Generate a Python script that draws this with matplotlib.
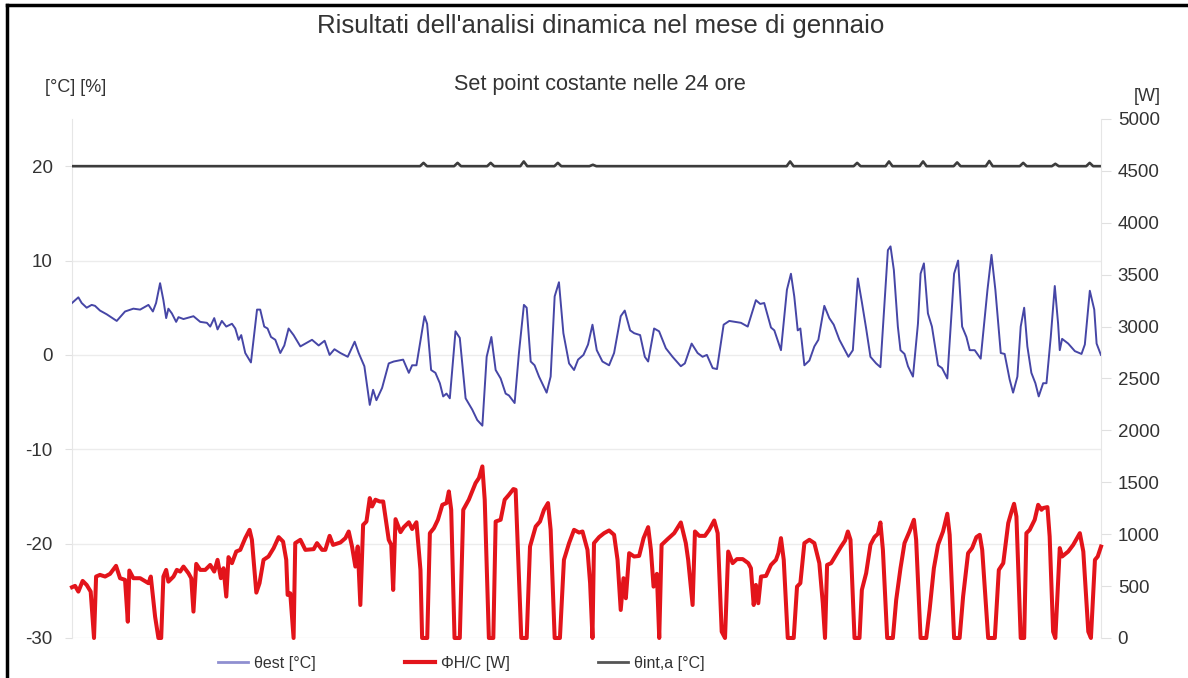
"""Risultati dell'analisi dinamica - gennaio (set point costante)."""

import matplotlib
matplotlib.use("Agg")
import matplotlib.pyplot as plt
from matplotlib.lines import Line2D

# theta_est [°C] (hour of month, value)
hours_est = [
    0, 4.6, 7.0, 10.6, 14.2, 16.6, 20.2, 25.1, 32.3, 38.3, 44.3, 49.2, 55.2, 58.4, 60.7,
    63.6, 66.0, 68.0, 69.6, 72.1, 75.2, 76.9, 80.5, 87.7, 92.6, 97.4, 99.8, 102.7, 105.1,
    108.2, 111.4, 115.5, 117.9, 120.3, 122.2, 125.1, 129.2, 133.6, 135.9, 138.8, 141.2,
    143.7, 146.8, 150.4, 153.3, 156.4, 160.0, 164.9, 169.7, 173.3, 178.1, 182.4, 186.0,
    189.5, 193.8, 199.1, 204.1, 207.0, 211.1, 215.0, 217.4, 219.8, 223.9, 228.7, 232.3,
    239.1, 243.2, 245.6, 248.7, 254.5, 256.4, 259.3, 262.4, 265.6, 268.0, 270.4, 272.8,
    276.9, 280.0, 284.2, 289.0, 292.6, 296.3, 299.4, 302.8, 305.9, 309.5, 313.1, 315.5,
    319.6, 322.7, 326.3, 328.3, 331.2, 334.0, 337.2, 342.7, 345.6, 348.5, 351.6, 354.8,
    358.9, 362.5, 365.4, 369.3, 372.6, 375.8, 378.9, 383.0, 387.8, 391.4, 396.2, 399.1,
    403.0, 405.9, 410.2, 413.6, 416.0, 420.3, 423.9, 428.8, 433.6, 439.6, 442.5, 447.4,
    451.7, 455.3, 458.4, 462.6, 465.7, 470.5, 474.6, 483.0, 487.9, 490.2, 493.8, 496.9,
    499.8, 504.7, 507.1, 511.9, 516.2, 519.1, 521.5, 524.0, 525.9, 528.8, 532.4, 536.0,
    538.9, 543.2, 546.8, 550.0, 554.1, 560.6, 563.8, 567.4, 570.3, 573.4, 576.5, 580.6,
    583.7, 589.1, 591.0, 593.4, 596.3, 598.2, 601.1, 603.6, 607.2, 610.8, 612.7, 615.1,
    618.0, 620.9, 625.3, 628.2, 632.0, 636.9, 639.8, 642.7, 645.8, 648.2, 651.8, 656.1,
    661.0, 663.9, 666.7, 670.6, 673.4, 677.0, 679.5, 682.6, 685.0, 687.5, 689.8, 692.7,
    695.6, 698.0, 701.2, 703.6, 706.7, 709.6, 712.0, 713.2, 714.9, 719.3, 724.1, 728.9,
    731.3, 734.9, 738.1, 739.8, 742.9,
]
temp_est = [
    5.5, 6.1, 5.5, 5.0, 5.3, 5.2, 4.7, 4.3, 3.6, 4.6, 4.9, 4.8, 5.3, 4.6, 5.5,
    7.6, 5.8, 3.9, 4.9, 4.4, 3.5, 4.0, 3.8, 4.1, 3.5, 3.4, 3.0, 3.9, 2.7,
    3.6, 3.0, 3.3, 2.8, 1.6, 2.1, 0.2, -0.8, 4.8, 4.8, 3.0, 2.8,
    1.9, 1.6, 0.2, 1.0, 2.8, 2.1, 0.9, 1.3, 1.6, 1.0, 1.5, 0.0,
    0.6, 0.2, -0.2, 1.4, 0.2, -1.2, -5.3, -3.7, -4.8, -3.5, -0.9, -0.7,
    -0.5, -1.9, -1.1, -1.1, 4.1, 3.3, -1.6, -1.9, -3.0, -4.4, -4.1, -4.6,
    2.5, 1.8, -4.6, -5.8, -6.9, -7.5, -0.2, 1.9, -1.6, -2.5, -4.1, -4.3,
    -5.1, 0.2, 5.3, 5.0, -0.7, -1.1, -2.3, -4.0, -2.3, 6.2, 7.7, 2.3,
    -0.9, -1.6, -0.5, 0.0, 1.1, 3.2, 0.5, -0.7, -1.1, 0.2, 4.1, 4.7,
    2.6, 2.3, 2.1, -0.2, -0.7, 2.8, 2.5, 0.7, -0.2, -1.2, -0.9, 1.2,
    0.2, -0.2, 0.0, -1.4, -1.5, 3.2, 3.6, 3.4, 3.0, 4.1, 5.8, 5.4,
    5.5, 2.9, 2.6, 0.5, 6.9, 8.6, 6.2, 2.6, 2.8, -1.1, -0.6, 0.9,
    1.6, 5.2, 3.9, 3.2, 1.6, -0.2, 0.5, 8.1, 5.6, 2.8, -0.2, -0.9,
    -1.3, 11.1, 11.5, 9.0, 3.0, 0.5, 0.1, -1.2, -2.3, 3.3, 8.6, 9.7,
    4.4, 3.0, -1.1, -1.4, -2.5, 8.6, 10.0, 3.0, 1.9, 0.5, 0.5, -0.4,
    6.9, 10.6, 6.9, 0.2, 0.1, -2.6, -4.0, -2.3, 3.0, 5.0, 0.9, -1.9,
    -3.0, -4.4, -3.0, -3.0, 1.9, 7.3, 3.3, 0.5, 1.7, 1.2, 0.4, 0.1,
    1.1, 6.8, 4.8, 1.2, 0.0,
]

# Phi_H/C [W]
hours_q = [
    0, 2.2, 4.6, 7.7, 10.6, 13.5, 15.9, 17.4, 20.2, 23.9, 27.5, 31.8, 34.7, 38.3, 40.3,
    41.4, 44.3, 49.2, 55.2, 56.9, 60.0, 62.4, 64.4, 66.0, 68.0, 69.6, 73.3, 75.7, 78.1,
    80.5, 84.1, 86.1, 87.7, 89.7, 92.6, 96.2, 99.8, 102.7, 105.1, 107.5, 109.4, 111.4,
    113.0, 115.5, 118.6, 121.5, 125.1, 128.2, 129.9, 133.1, 135.4, 138.3, 141.9, 145.6,
    149.2, 152.4, 154.7, 155.7, 157.6, 160.0, 161.2, 164.9, 168.5, 174.5, 176.9, 180.6,
    182.9, 186.0, 188.5, 193.8, 197.4, 199.8, 202.2, 204.6, 206.3, 208.2, 210.2, 212.6,
    215.0, 216.7, 219.1, 222.2, 224.7, 228.7, 230.5, 231.9, 233.6, 237.2, 239.6, 243.2,
    245.6, 248.7, 251.6, 252.8, 256.5, 258.4, 261.3, 264.2, 267.4, 270.4, 272.1, 273.8,
    276.2, 280.0, 282.5, 286.5, 291.4, 293.8, 296.3, 298.0, 301.0, 304.2, 305.9, 309.5,
    312.4, 315.5, 318.7, 320.3, 324.4, 328.3, 330.7, 334.8, 337.9, 340.8, 343.7, 345.6,
    348.5, 352.3, 355.2, 358.9, 362.5, 366.1, 368.6, 372.2, 374.1, 375.8, 376.9, 380.6,
    384.2, 387.8, 391.4, 393.9, 396.2, 398.2, 399.9, 402.3, 405.9, 409.5, 412.7, 416.0,
    418.0, 419.9, 422.3, 424.0, 425.7, 430.0, 434.8, 439.6, 443.2, 444.9, 448.1, 449.8,
    452.9, 457.0, 460.1, 463.7, 466.2, 469.1, 471.5, 473.8, 477.0, 480.1, 484.3, 488.3,
    490.2, 492.2, 493.8, 495.5, 497.5, 501.1, 504.7, 508.3, 510.0, 511.9, 513.9, 516.8,
    521.1, 523.5, 525.9, 528.8, 532.4, 536.0, 539.6, 542.1, 543.7, 545.2, 548.1, 551.7,
    555.3, 558.2, 560.2, 562.1, 565.0, 568.6, 570.3, 573.4, 576.5, 579.4, 581.9, 583.7,
    585.5, 588.6, 592.7, 595.1, 598.2, 601.1, 604.7, 607.9, 609.5, 612.7, 616.8, 619.2,
    622.3, 625.3, 628.9, 632.0, 633.7, 636.9, 640.9, 643.4, 647.0, 649.9, 653.0, 655.4,
    657.2, 661.5, 666.3, 669.2, 672.4, 676.0, 678.4, 680.2, 681.9, 685.0, 687.5, 689.1,
    691.5, 695.1, 697.6, 700.0, 701.2, 704.3, 705.9, 708.4, 710.0, 713.2, 714.9, 719.3,
    722.9, 727.7, 730.2, 733.8, 735.7, 738.6, 740.6, 743.0,
]
power_q = [
    489, 502, 447, 550, 511, 447, 0, 592, 608, 592, 618, 695, 576, 560, 157,
    650, 576, 576, 528, 592, 206, 0, 0, 592, 656, 543, 592, 656, 640,
    688, 624, 576, 254, 714, 656, 656, 704, 640, 753, 576, 672, 399,
    779, 721, 833, 849, 962, 1042, 946, 437, 528, 753, 785, 866,
    972, 929, 753, 415, 431, 0, 914, 946, 849, 856, 914, 849,
    849, 984, 897, 920, 962, 1026, 881, 688, 881, 318, 1090, 1122,
    1348, 1267, 1332, 1315, 1315, 946, 897, 463, 1145, 1020, 1068, 1115,
    1050, 1115, 656, 0, 0, 1010, 1058, 1139, 1283, 1300, 1412, 1235,
    0, 0, 1235, 1332, 1493, 1541, 1653, 1332, 0, 0, 1122, 1139,
    1332, 1380, 1435, 1428, 0, 0, 881, 1074, 1122, 1235, 1300, 1042,
    0, 0, 753, 914, 1042, 1016, 1026, 849, 528, 0, 914, 972,
    1010, 1036, 994, 753, 270, 576, 383, 817, 785, 791, 962, 1068,
    849, 495, 618, 0, 897, 952, 1010, 1113, 914, 753, 318, 1026,
    984, 984, 1042, 1132, 1010, 61, 0, 833, 721, 760, 760, 721,
    672, 318, 511, 335, 592, 598, 704, 753, 817, 962, 753, 0,
    0, 495, 528, 914, 946, 914, 721, 335, 0, 704, 721, 801,
    881, 939, 1026, 946, 0, 0, 463, 624, 897, 972, 1004, 1113,
    849, 0, 0, 367, 672, 914, 1026, 1139, 946, 0, 0, 270,
    672, 897, 1026, 1197, 994, 0, 0, 399, 817, 866, 972, 994,
    849, 0, 0, 656, 721, 1107, 1219, 1293, 1171, 0, 0, 1010,
    1042, 1139, 1283, 1235, 1252, 1261, 978, 61, 0, 866, 785, 833,
    897, 1010, 833, 61, 0, 753, 785, 881,
]

# theta_int,a [°C]: constant set point with small overshoots
hours_int = [
    0, 251.3, 253.8, 256.3, 275.9, 278.4, 280.9, 299.8, 302.3, 304.8, 323.7, 326.2, 328.7,
    348.3, 350.8, 353.3, 373.6, 376.1, 378.6, 516.0, 518.5, 521.0, 564.4, 566.9, 569.4,
    587.4, 589.9, 592.4, 612.0, 614.5, 617.0, 636.6, 639.1, 641.6, 659.8, 662.3, 664.8,
    684.3, 686.8, 689.3, 707.5, 710.0, 712.5, 732.3, 734.8, 737.3, 743,
]
temp_int = [
    20.0, 20.0, 20.35, 20.0, 20.0, 20.35, 20.0, 20.0, 20.35, 20.0, 20.0, 20.5, 20.0,
    20.0, 20.35, 20.0, 20.0, 20.15, 20.0, 20.0, 20.5, 20.0, 20.0, 20.35, 20.0,
    20.0, 20.5, 20.0, 20.0, 20.5, 20.0, 20.0, 20.4, 20.0, 20.0, 20.55, 20.0,
    20.0, 20.35, 20.0, 20.0, 20.25, 20.0, 20.0, 20.35, 20.0, 20.0,
]

left_ticks = [-30, -20, -10, 0, 10, 20]
right_ticks = [0, 500, 1000, 1500, 2000, 2500, 3000, 3500, 4000, 4500, 5000]
legend_labels = ["θest [°C]", "ΦH/C [W]", "θint,a [°C]"]

FONT = "Liberation Sans"
TXT = "#333333"
C_EST = "#4646a6"
C_Q = "#e3141b"
C_INT = "#3c3c3c"


def main() -> None:
    plt.rcParams.update({"font.family": [FONT, "DejaVu Sans"], "axes.unicode_minus": False})
    fig = plt.figure(figsize=(11.88, 6.78), dpi=100)

    ax = fig.add_axes([0.0606, 0.059, 0.8662, 0.7655])
    ax2 = ax.twinx()

    ax.set_xlim(0, 743)
    ax.set_ylim(-30, 25)
    ax2.set_ylim(0, 5000)

    ax.set_yticks(left_ticks)
    ax2.set_yticks(right_ticks)
    ax.set_xticks([])
    ax.grid(axis="y", color="#ececec", lw=1.0)

    for a in (ax, ax2):
        for s in a.spines.values():
            s.set_visible(False)
    ax.spines["left"].set_visible(True)
    ax.spines["left"].set_color("#e6e6e6")
    ax2.spines["right"].set_visible(True)
    ax2.spines["right"].set_color("#e6e6e6")

    ax.tick_params(axis="y", length=5, color="#e0e0e0", labelsize=13.5, labelcolor=TXT, pad=9)
    ax2.tick_params(axis="y", length=7, color="#e0e0e0", labelsize=13.5, labelcolor=TXT, pad=5)

    ax.plot(hours_est, temp_est, color=C_EST, lw=1.4, zorder=3)
    ax.plot(hours_int, temp_int, color=C_INT, lw=1.9, zorder=3)
    ax2.plot(hours_q, power_q, color=C_Q, lw=2.9, zorder=3, solid_joinstyle="round",
             clip_on=False)

    fig.text(0.506, 0.962, "Risultati dell'analisi dinamica nel mese di gennaio",
             ha="center", va="center", fontsize=18.6, color=TXT)
    fig.text(0.505, 0.876, "Set point costante nelle 24 ore",
             ha="center", va="center", fontsize=15.6, color=TXT)
    fig.text(0.064, 0.871, "[°C] [%]", ha="center", va="center", fontsize=13, color=TXT)
    fig.text(0.966, 0.857, "[W]", ha="center", va="center", fontsize=13, color=TXT)

    # legend: one entry per block, placed like the original
    handles = [
        Line2D([], [], color="#8f8fd0", lw=2.0),
        Line2D([], [], color=C_Q, lw=3.0),
        Line2D([], [], color="#555555", lw=2.0),
    ]
    starts = [218 / 1188, 405 / 1188, 598 / 1188]
    for h, lab, x0 in zip(handles, legend_labels, starts):
        fig.legend([h], [lab], loc="center left", bbox_to_anchor=(x0, 0.022),
                   frameon=False, fontsize=11.5, handlelength=1.9, handletextpad=0.35,
                   borderpad=0, borderaxespad=0, labelcolor=TXT)

    # frame of the original chart (left and top edges)
    fig.add_artist(Line2D([0.0063, 0.0063], [0.0, 0.993], color="black", lw=2.5,
                          transform=fig.transFigure))
    fig.add_artist(Line2D([0.0063, 1.0], [0.993, 0.993], color="black", lw=2.5,
                          transform=fig.transFigure))

    fig.savefig("out.png", dpi=100)
    plt.close(fig)


if __name__ == "__main__":
    main()
